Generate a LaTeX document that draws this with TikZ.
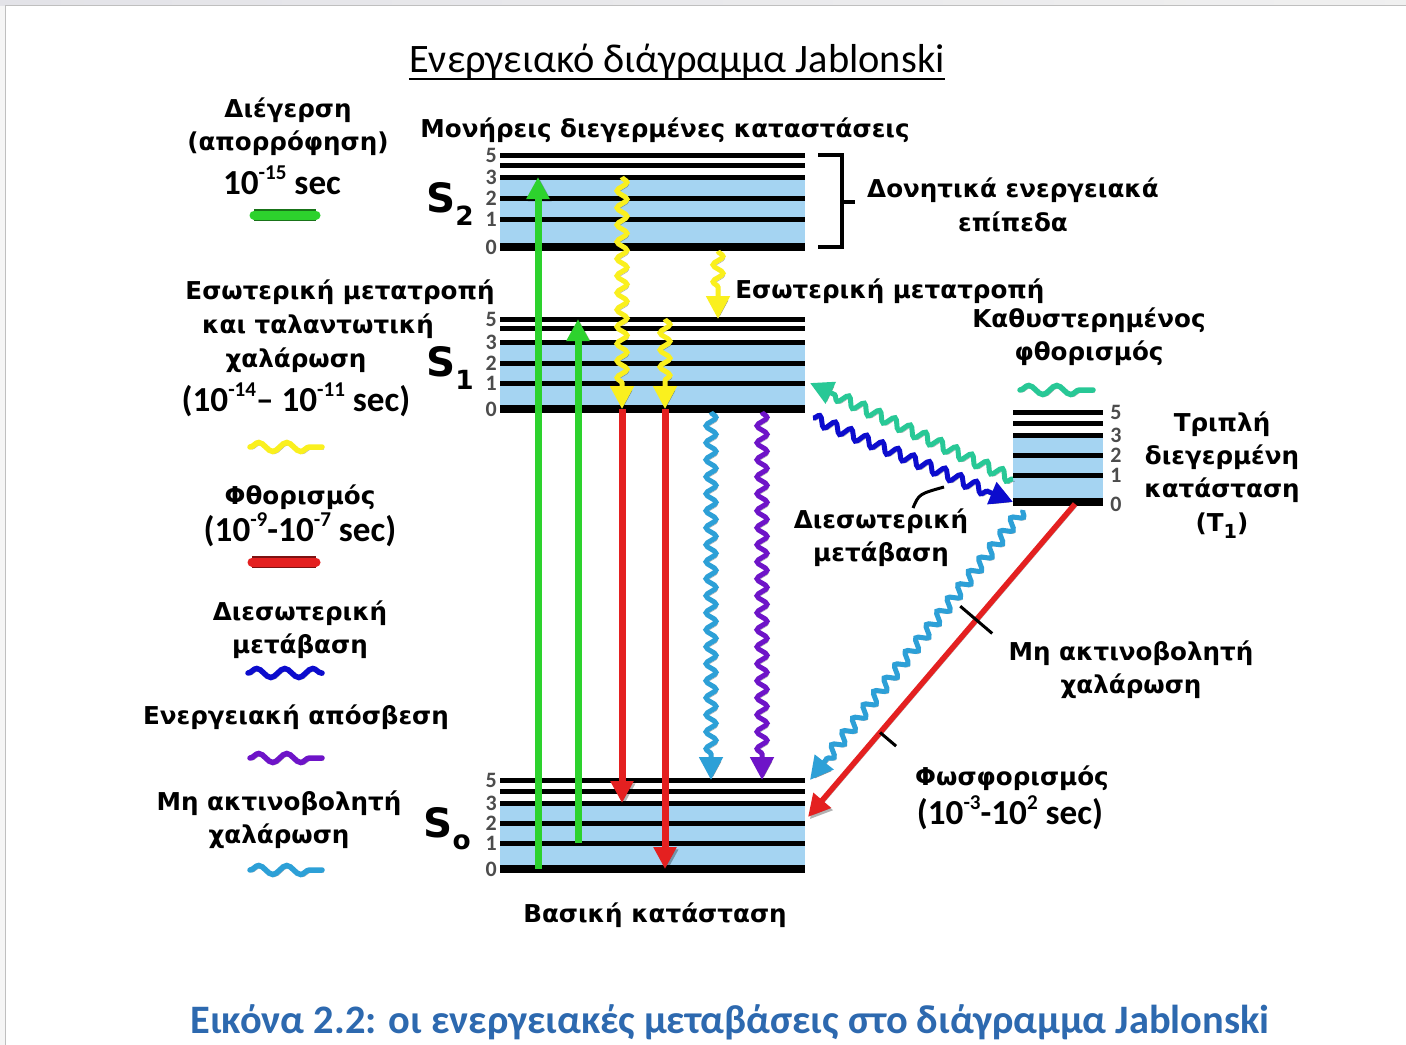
\documentclass[tikz,border=0pt]{standalone}
\usepackage{fontspec}
\setmainfont{DejaVu Sans}
\newfontfamily\capfont{Carlito}
\usetikzlibrary{arrows.meta,decorations.pathmorphing,calc}

\definecolor{lvlblue}{RGB}{165,212,242}
\definecolor{absgreen}{RGB}{45,210,45}
\definecolor{icyellow}{RGB}{250,240,30}
\definecolor{flred}{RGB}{228,32,32}
\definecolor{iscblue}{RGB}{12,12,205}
\definecolor{quench}{RGB}{110,20,200}
\definecolor{nrcyan}{RGB}{45,160,215}
\definecolor{dfteal}{RGB}{40,200,150}
\definecolor{capblue}{RGB}{45,105,175}

\newcommand{\hisup}[2][12]{\raisebox{0.42em}{\fontsize{#1}{#1}\selectfont #2}}
\newcommand{\losub}[2][15]{\raisebox{-0.3em}{\fontsize{#1}{#1}\selectfont #2}}

\tikzset{
  lvl/.style={line width=1mm},
  lvlz/.style={line width=1.6mm},
  dig/.style={font=\capfont\bfseries\fontsize{12.5}{12.5}\selectfont, text=black!70, inner sep=0},
  lbl/.style={font=\bfseries\fontsize{14}{19}\selectfont, align=center, inner sep=0},
  num/.style={font=\capfont\bfseries\fontsize{20}{20}\selectfont, inner sep=0},
  slbl/.style={font=\bfseries\fontsize{23}{23}\selectfont, inner sep=0},
  ttl/.style={font=\capfont\fontsize{23}{23}\selectfont, inner sep=0},
  capt/.style={font=\capfont\bfseries\fontsize{23}{23}\selectfont, text=capblue, inner sep=0},
  drop/.style={preaction={draw=black, opacity=0.3, transform canvas={shift={(0.35mm,-0.45mm)}}}},
  straight/.style={drop, line width=1.4mm, -{Triangle[width=4.4mm,length=4.4mm]}},
  wavy/.style={drop, line width=1mm, decorate,
    decoration={snake, amplitude=1mm, segment length=3.4mm, post length=5mm},
    -{Triangle[width=4.6mm,length=4.6mm]}},
  legbar/.style={line width=1.8mm, line cap=round},
  legwave/.style={drop, line width=1.1mm, line cap=round, decorate,
    decoration={snake, amplitude=0.9mm, segment length=5.6mm}},
  tick/.style={line width=0.6mm},
}

\begin{document}
\begin{tikzpicture}[x=0.2mm, y=-0.2mm]
    \useasboundingbox (0,0) rectangle (1406,1045);
    % page frame
    \fill[white] (0,0) rectangle (1406,1045);
    \shade[left color=blue!10!gray!20, right color=gray!12] (0,0) rectangle (1406,6);
    \fill[gray!8] (0,6) rectangle (5,1045);
    \draw[gray!50, line width=0.2mm] (5,1045) -- (5,6) -- (1406,6);

    % Title
    \node[ttl] (ttl) at (677,62) {Ενεργειακό διάγραμμα Jablonski};
    \draw[line width=0.5mm] ($(ttl.south west)+(0,-1)$) -- ($(ttl.south east)+(0,-1)$);
    \node[lbl] (single) at (665,130) {Μονήρεις διεγερμένες καταστάσεις};

    % S2
    \fill[lvlblue] (500,177) rectangle (805,247);
    \foreach \n/\y in {5/155,4/165,3/177,2/198,1/219}
        \draw[lvl] (500,\y) coordinate (s2l\n) -- (805,\y);
    \draw[lvlz] (500,247) coordinate (s2l0) -- (805,247);
    \foreach \n/\y in {5/155,3/177,2/198,1/219,0/247}
        \node[dig, anchor=east] (s2d\n) at (497,\y) {\n};
    \node[slbl] (S2) at (450,204) {S\losub{2}};

    % S1
    \fill[lvlblue] (500,342) rectangle (805,409);
    \foreach \n/\y in {5/319,4/328,3/342,2/363,1/383}
        \draw[lvl] (500,\y) coordinate (s1l\n) -- (805,\y);
    \draw[lvlz] (500,409) coordinate (s1l0) -- (805,409);
    \foreach \n/\y in {5/319,3/342,2/363,1/383,0/409}
        \node[dig, anchor=east] (s1d\n) at (497,\y) {\n};
    \node[slbl] (S1) at (450,368) {S\losub{1}};

    % S0
    \fill[lvlblue] (500,803) rectangle (805,869);
    \foreach \n/\y in {5/780,4/791,3/803,2/823,1/843}
        \draw[lvl] (500,\y) coordinate (s0l\n) -- (805,\y);
    \draw[lvlz] (500,869) coordinate (s0l0) -- (805,869);
    \foreach \n/\y in {5/780,3/803,2/823,1/843,0/869}
        \node[dig, anchor=east] (s0d\n) at (497,\y) {\n};
    \node[slbl] (S0) at (447,829) {S\losub{o}};

    % T1
    \fill[lvlblue] (1013,435) rectangle (1103,502);
    \foreach \n/\y in {5/412,4/423,3/435,2/455,1/475}
        \draw[lvl] (1013,\y) coordinate (t1l\n) -- (1103,\y);
    \draw[lvlz] (1013,502) coordinate (t1l0) -- (1103,502);
    \foreach \n/\y in {5/412,3/435,2/455,1/475,0/504}
        \node[dig, anchor=west] (t1d\n) at (1110,\y) {\n};

    % vibrational bracket
    \draw[line width=0.8mm] (818,155) -| (842,247) -- (818,247);
    \draw[line width=0.8mm] (842,202) -- (855,202);
    \node[lbl] (vib) at (1013,205) {Δονητικά ενεργειακά\\επίπεδα};

    % columns of the transitions
    \coordinate (cA) at (538,0);
    \coordinate (cB) at (578,0);
    \coordinate (cC) at (622,0);
    \coordinate (cD) at (665,0);
    \coordinate (cE) at (718,0);
    \coordinate (cF) at (711,0);
    \coordinate (cG) at (762,0);
    \coordinate (sR) at (810,0);

    % absorption
    \draw[straight, absgreen] (cA |- s0l0) -- (cA |- s2l3);
    \draw[straight, absgreen] (cB |- s0l1) -- (cB |- s1l5);
    % internal conversion
    \draw[wavy, icyellow] (cC |- s2l3) -- (cC |- s1l0);
    \draw[wavy, icyellow] (cD |- s1l5) -- (cD |- s1l0);
    \draw[wavy, icyellow] ($(cE |- s2l0)+(0,4)$) -- (cE |- s1l5);
    \node[lbl, anchor=west] (icmid) at (735,291) {Εσωτερική μετατροπή};
    % fluorescence
    \draw[straight, flred] (cC |- s1l0) -- (cC |- s0l3);
    \draw[straight, flred] (cD |- s1l0) -- (cD |- s0l0);
    % non radiative relaxation and quenching
    \draw[wavy, nrcyan] ($(cF |- s1l0)+(0,3)$) -- (cF |- s0l5);
    \draw[wavy, quench] ($(cG |- s1l0)+(0,3)$) -- (cG |- s0l5);

    % delayed fluorescence
    \draw[wavy, dfteal] ($(t1l1)+(0,4)$) -- (sR |- s1l1);
    \node[lbl] (delay) at (1089,337) {Καθυστερημένος\\φθορισμός};
    \draw[legwave, dfteal] (1020,390) -- (1093,390);
    % intersystem crossing
    \draw[wavy, iscblue] ($(sR |- s1l0)+(3,9)$) -- (t1l0);
    \node[lbl] (isc) at (881,538) {Διεσωτερική\\μετάβαση};
    \coordinate (iscQ) at (913,508);
    \coordinate (iscP) at (944,487);
    \draw[line width=0.6mm] (iscQ) .. controls (919,494) .. (iscP);
    \node[lbl] (trip) at (1222,475) {Τριπλή\\διεγερμένη\\κατάσταση\\(T\losub[11]{1})};

    % from T1 down to S0
    \coordinate (nrT) at (1023,510);
    \coordinate (phT) at (1075,504);
    \coordinate (phH) at (808,817);
    \draw[wavy, nrcyan] (nrT) -- (sR |- s0l5);
    \draw[straight, flred, line width=1.1mm] (phT) -- (phH);
    \path (phT) -- (phH) coordinate[pos=0.37] (tk1) coordinate[pos=0.73] (tk2);
    \draw[tick] ($(tk1)!4.2mm!90:(phT)$) -- ($(tk1)!4.2mm!-90:(phT)$);
    \draw[tick] (tk2) -- ($(tk2)!4.2mm!-90:(phT)$);
    \node[lbl] (nrr) at (1131,670) {Μη ακτινοβολητή\\χαλάρωση};
    \node[lbl] (phos) at (1012,778) {Φωσφορισμός};
    \node[num] (phost) at (1010,813) {(10\hisup{-3}-10\hisup{2} sec)};

    \node[lbl] (ground) at (655,915) {Βασική κατάσταση};

    % Legend
    \node[lbl] (exc) at (288,127) {Διέγερση\\(απορρόφηση)};
    \node[num] (exct) at (282,180) {10\hisup{-15} sec};
    \draw[legbar, absgreen, preaction={draw=absgreen!55!black, line width=2.5mm}] (254,215) -- (316,215);

    \node[lbl] (ic1) at (340,292) {Εσωτερική μετατροπή};
    \node[lbl] (ic2) at (318,326) {και ταλαντωτική};
    \node[lbl] (ic3) at (296,360) {χαλάρωση};
    \node[num] (ict) at (296,400) {(10\hisup{-14}– 10\hisup{-11} sec)};
    \draw[legwave, icyellow] (250,447) -- (322,447);

    \node[lbl] (fl) at (300,497) {Φθορισμός};
    \node[num] (flt) at (300,530) {(10\hisup{-9}-10\hisup{-7} sec)};
    \draw[legbar, flred, preaction={draw=flred!55!black, line width=2.5mm}] (252,562) -- (316,562);

    \node[lbl] (iscl) at (300,630) {Διεσωτερική\\μετάβαση};
    \draw[legwave, iscblue] (248,673) -- (322,673);

    \node[lbl] (qu) at (296,717) {Ενεργειακή απόσβεση};
    \draw[legwave, quench] (250,758) -- (322,758);

    \node[lbl] (nrl) at (279,820) {Μη ακτινοβολητή\\χαλάρωση};
    \draw[legwave, nrcyan] (250,870) -- (322,870);

    % Caption
    \node[capt] (capt) at (730,1022) {Εικόνα 2.2: οι ενεργειακές μεταβάσεις στο διάγραμμα Jablonski};
\end{tikzpicture}
\end{document}
